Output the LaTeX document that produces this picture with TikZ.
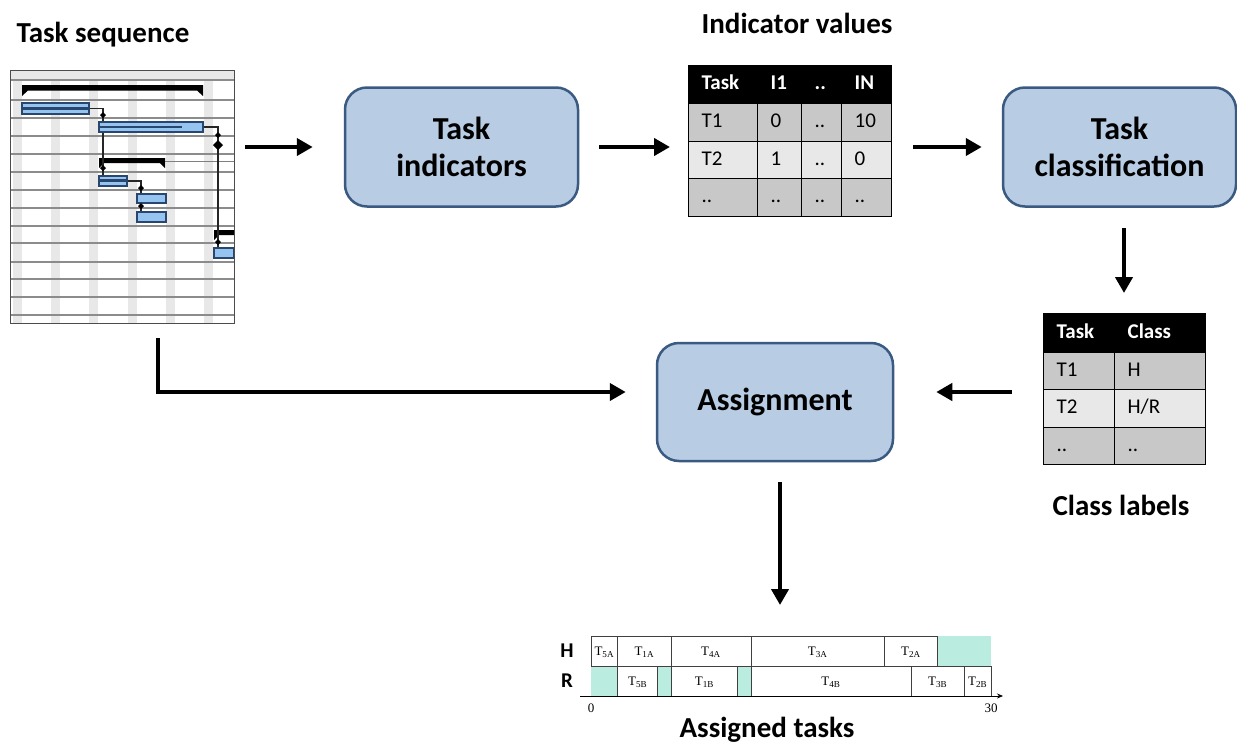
\documentclass[tikz,border=0pt]{standalone}
\usepackage{fontspec}
\setmainfont{Carlito}
\newfontfamily\chartfont{Liberation Serif}
\usetikzlibrary{arrows.meta}
\definecolor{boxfill}{RGB}{184,204,228}
\definecolor{boxdraw}{RGB}{58,90,130}
\definecolor{rowdark}{RGB}{200,200,200}
\definecolor{rowlight}{RGB}{232,232,232}
\definecolor{idle}{RGB}{186,236,224}
\definecolor{barfill}{RGB}{150,196,240}
\definecolor{bardraw}{RGB}{40,70,110}
\definecolor{gridband}{RGB}{232,232,232}
\definecolor{gridline}{RGB}{140,140,140}
\tikzset{
 procbox/.style={draw=boxdraw, line width=2.5pt, fill=boxfill, rounded corners=22pt, minimum width=233pt, minimum height=119pt, align=center, inner sep=0pt, font=\fontsize{32}{37}\selectfont\bfseries},
 title/.style={anchor=base, inner sep=0pt, font=\fontsize{29}{34}\selectfont\bfseries},
 arr/.style={line width=4pt, -{Triangle[length=16pt,width=17pt]}},
 cell/.style={draw=black, line width=1.3pt, anchor=north west, inner xsep=13pt, inner ysep=0pt, align=left, text height=14pt, text depth=4pt, font=\fontsize{21}{24}\selectfont},
 head/.style={cell, fill=black, text=white, font=\fontsize{21}{24}\selectfont\bfseries},
 dark/.style={cell, fill=rowdark},
 light/.style={cell, fill=rowlight},
 tbox/.style={draw=black!75, line width=0.8pt, fill=white},
 tlabel/.style={font=\chartfont\fontsize{13}{15}\selectfont, inner sep=0pt},
 rowlab/.style={font=\fontsize{21}{24}\selectfont\bfseries, inner sep=0pt},
 gbar/.style={fill=barfill, draw=bardraw, line width=1.3pt},
 gprog/.style={draw=bardraw, line width=2.4pt},
 glink/.style={draw=black!85, line width=1.2pt},
}
\begin{document}
\begin{tikzpicture}[x=1pt,y=-1pt]
\useasboundingbox (0,0) rectangle (1237,753);

% ---------- Gantt chart (task sequence) ----------
\node[fill=white, minimum width=224pt, minimum height=253pt, anchor=north west, inner sep=0pt] (gantt) at (10,70) {};
\fill[gridband] (10,70) rectangle (234,80);
\foreach \x in {17,55,93,132,170,208} \fill[gridband] (\x-4.5,80) rectangle (\x+4.5,323);
\foreach \y in {80,100,118,136,154,172,190,208,226,243,262,279,297,315} \draw[gridline, line width=1.1pt] (10,\y) -- (234,\y);
% summary bars
\fill (22,85) -- (203,85) -- (203,96) -- (197,90.5) -- (28,90.5) -- (22,96) -- cycle;
\fill (99,158) -- (165,158) -- (165,168) -- (160,163) -- (104,163) -- (99,168) -- cycle;
\draw[black!50, line width=0.8pt] (165,161) -- (234,161);
\fill (214,230) -- (234,230) -- (234,235) -- (219,235) -- (214,240) -- cycle;
% links
\draw[glink] (89,108.5) -- (103,108.5) -- (103,176);
\draw[glink] (203,127) -- (218,127) -- (218,248);
\draw[glink] (127,181) -- (141,181) -- (141,212);
% task bars
\draw[gbar] (22,103) rectangle (89,114);
\draw[gprog] (22,108.5) -- (88,108.5);
\draw[gbar] (99,122) rectangle (203,132);
\draw[gprog] (99,127) -- (182,127);
\draw[gbar] (99,176) rectangle (127,186);
\draw[gprog] (99,180.5) -- (126,180.5);
\draw[gbar] (137,194) rectangle (166,203);
\draw[gbar] (137,212) rectangle (166,222);
\draw[gbar] (214,248) rectangle (234,258);
% link markers
\foreach \x/\y/\r in {103/115/3, 103/168/3, 218/135/3, 218/145/5, 141/188/3, 141/206/3, 218/242/3}
  \fill (\x,\y-\r) -- (\x+\r,\y) -- (\x,\y+\r) -- (\x-\r,\y) -- cycle;
\draw[black!70, line width=1pt] (gantt.north west) rectangle (gantt.south east);

% ---------- titles ----------
\node[title] (tseq) at (103,42) {Task sequence};
\node[title] (ival) at (797,33) {Indicator values};
\node[title] (clab) at (1121,515) {Class labels};
\node[title] (atask) at (767,737) {Assigned tasks};

% ---------- process boxes ----------
\node[procbox] (ti) at (461.5,147) {Task\\indicators};
\node[procbox] (tc) at (1119.5,147) {Task\\classification};
\node[procbox, minimum width=236pt, minimum height=118pt] (asg) at (775,402) {Assignment};

% ---------- indicator table ----------
\node[head, text width=43pt, minimum height=38pt] (ia11) at (688,65) {Task};
\node[head, text width=18pt, minimum height=38pt] (ia12) at (757,65) {I1};
\node[head, text width=14pt, minimum height=38pt] (ia13) at (801,65) {..};
\node[head, text width=24pt, minimum height=38pt] (ia14) at (841,65) {IN};
\node[dark, text width=43pt, minimum height=38pt] (ia21) at (688,103) {T1};
\node[dark, text width=18pt, minimum height=38pt] (ia22) at (757,103) {0};
\node[dark, text width=14pt, minimum height=38pt] (ia23) at (801,103) {..};
\node[dark, text width=24pt, minimum height=38pt] (ia24) at (841,103) {10};
\node[light, text width=43pt, minimum height=37pt] (ia31) at (688,141) {T2};
\node[light, text width=18pt, minimum height=37pt] (ia32) at (757,141) {1};
\node[light, text width=14pt, minimum height=37pt] (ia33) at (801,141) {..};
\node[light, text width=24pt, minimum height=37pt] (ia34) at (841,141) {0};
\node[dark, text width=43pt, minimum height=38pt] (ia41) at (688,178) {..};
\node[dark, text width=18pt, minimum height=38pt] (ia42) at (757,178) {..};
\node[dark, text width=14pt, minimum height=38pt] (ia43) at (801,178) {..};
\node[dark, text width=24pt, minimum height=38pt] (ia44) at (841,178) {..};

% ---------- class table ----------
\node[head, text width=45pt, minimum height=39pt] (ib11) at (1043,313) {Task};
\node[head, text width=65pt, minimum height=39pt] (ib12) at (1114,313) {Class};
\node[dark, text width=45pt, minimum height=37pt] (ib21) at (1043,352) {T1};
\node[dark, text width=65pt, minimum height=37pt] (ib22) at (1114,352) {H};
\node[light, text width=45pt, minimum height=38pt] (ib31) at (1043,389) {T2};
\node[light, text width=65pt, minimum height=38pt] (ib32) at (1114,389) {H/R};
\node[dark, text width=45pt, minimum height=37pt] (ib41) at (1043,427) {..};
\node[dark, text width=65pt, minimum height=37pt] (ib42) at (1114,427) {..};

% ---------- assigned tasks chart ----------
\node[inner sep=0pt, minimum width=400pt, minimum height=60pt, anchor=north west] (chart) at (591,636) {};
\begin{scope}[shift={(591,0)}, x=13.3333pt]
\fill[idle] (26,636) rectangle (30,666);
\fill[idle] (0,666) rectangle (2,696);
\fill[idle] (5,666) rectangle (6,696);
\fill[idle] (11,666) rectangle (12,696);
\foreach \a/\b/\n/\s in {0/2/h1/5A, 2/6/h2/1A, 6/12/h3/4A, 12/22/h4/3A, 22/26/h5/2A} {
  \draw[tbox] (\a,636) rectangle (\b,666);
  \node[tlabel] (\n) at ({(\a+\b)/2},652) {T\textsubscript{\s}};
}
\foreach \a/\b/\n/\s in {2/5/r1/5B, 6/11/r2/1B, 12/24/r3/4B, 24/28/r4/3B, 28/30/r5/2B} {
  \draw[tbox] (\a,666) rectangle (\b,696);
  \node[tlabel] (\n) at ({(\a+\b)/2},682) {T\textsubscript{\s}};
}
\draw[line width=0.7pt, -{Stealth[length=6pt,width=5pt]}] (-0.8,696) -- (30.9,696);
\node[tlabel] (ax0) at (0,708) {0};
\node[tlabel] (ax30) at (30,708) {30};
\end{scope}
\node[rowlab] (lh) at (567,651) {H};
\node[rowlab] (lr) at (567,681) {R};

% ---------- connectors ----------
\draw[arr, shorten <=11pt, shorten >=31pt] (gantt.east |- ti.west) -- (ti.west);
\draw[arr, shorten <=20pt, shorten >=18pt] (ti.east) -- (ti.east -| ia11.west);
\draw[arr, shorten <=21pt, shorten >=20pt] (ia14.east |- tc.west) -- (tc.west);
\draw[arr, shorten <=20pt, shorten >=20pt] ([xshift=4.5pt]tc.south) -- ([xshift=4.5pt]tc.south |- ib11.north);
\draw[arr, shorten <=31pt, shorten >=42pt] ([yshift=10pt]ib11.west |- asg.east) -- ([yshift=10pt]asg.east);
\draw[arr, shorten >=30pt] ([xshift=36pt,yshift=-15pt]gantt.south) |- ([yshift=10pt]asg.west);
\draw[arr, shorten <=20pt, shorten >=31pt] ([xshift=5pt]asg.south) -- ([xshift=5pt]asg.south |- chart.north);
\end{tikzpicture}
\end{document}
